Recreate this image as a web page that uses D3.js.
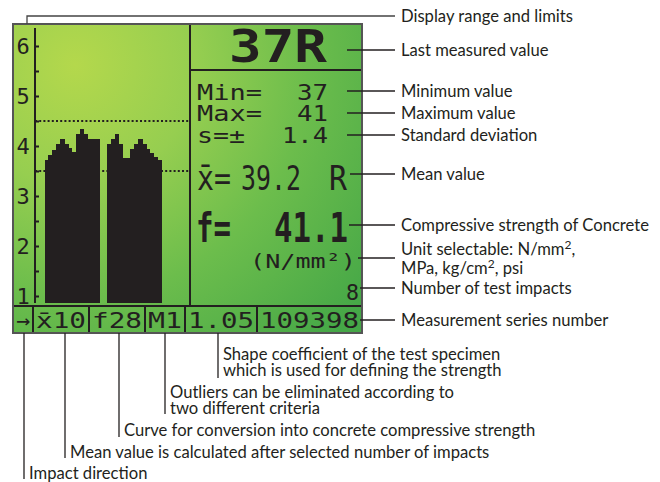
<!DOCTYPE html>
<html><head><meta charset="utf-8">
<script src="https://cdn.jsdelivr.net/npm/d3@7"></script>
<style>body{margin:0;background:#fff}</style>
</head><body><svg id="c" width="660" height="482"></svg>
<script>
// ---------- data ----------
const yTickValues = [1, 2, 3, 4, 5, 6];
const yMinorTickValues = [1.5, 2.5, 3.5, 4.5, 5.5];
const limitValues = [3.5, 4.5];
// histogram bins (display units), null = empty bin
const histBins = [3.72, 3.82, 3.92, 4.04, 4.14, 4.04, 3.96, 3.88, 4.24, 4.34, 4.24, 4.14, 4.14, 4.14,
                  null, null,
                  4.04, 4.14, 4.24, 4.04, 3.76, 3.76, 3.94, 4.04, 4.14, 4.04, 3.94, 3.86, 3.78, 3.72];
const lastValue = "37R";
const readoutLabels = ["Min=", "Max=", "s=\u00b1"];
const readoutValues = ["37", "41", "1.4"];
const meanLabel = "x\u0304=", meanValue = "39.2", meanUnit = "R";
const strengthLabel = "f=", strengthValue = "41.1", strengthUnit = "(N/mm\u00b2)";
const impactCount = "8";
const statusFields = ["\u2192", "x\u030410", "f28", "M1", "1.05", "109398"];
const rightNotes = ["Display range and limits", "Last measured value", "Minimum value", "Maximum value",
  "Standard deviation", "Mean value", "Compressive strength of Concrete",
  "Unit selectable: N/mm\u00b2,|MPa, kg/cm\u00b2, psi", "Number of test impacts", "Measurement series number"];
const bottomNotes = ["Impact direction", "Mean value is calculated after selected number of impacts",
  "Curve for conversion into concrete compressive strength",
  "Outliers can be eliminated according to|two different criteria",
  "Shape coefficient of the test specimen|which is used for defining the strength"];

// ---------- layout ----------
const svg = d3.select("#c");
const INK = "#231f20";
const LCD_FONT = "'DejaVu Sans Mono', monospace";
const NOTE_FONT = "Lato, 'DejaVu Sans', sans-serif";
const NOTE_SIZE = 16.6;
const scr = {x0: 13, x1: 362, y0: 24, y1: 333};
const divX = 190, headerY = 70, statusY = 306;
const statusDividers = [33, 89, 145, 185, 257];
const statusCellEdges = [scr.x0, 33, 89, 145, 185, 257, scr.x1];
const plotBottom = 303, axisX = 35;

const defs = svg.append("defs");
const grad = defs.append("radialGradient").attr("id", "lcd")
  .attr("gradientUnits", "userSpaceOnUse").attr("cx", 75).attr("cy", 65).attr("r", 375);
[[0, "#b4d84c"], [0.32, "#96ce50"], [0.62, "#6cbd4c"], [1, "#45a747"]].forEach(([o, c]) =>
  grad.append("stop").attr("offset", o).attr("stop-color", c));

// screen background
svg.append("rect").attr("x", scr.x0).attr("y", scr.y0)
  .attr("width", scr.x1 - scr.x0).attr("height", scr.y1 - scr.y0).attr("fill", "url(#lcd)");

const x = d3.scaleLinear().domain([0, histBins.length]).range([44.5, 161.5]);
const y = d3.scaleLinear().domain([1, 6]).range([296, 46]);

// dotted limit lines
svg.selectAll("line.limit").data(limitValues).join("line")
  .attr("x1", axisX).attr("x2", divX).attr("y1", d => y(d)).attr("y2", d => y(d))
  .attr("stroke", INK).attr("stroke-width", 2).attr("stroke-dasharray", "2,2.2");

// histogram
const bins = histBins.map((v, i) => ({i, v})).filter(d => d.v !== null);
svg.selectAll("rect.bin").data(bins).join("rect")
  .attr("x", d => x(d.i)).attr("width", d => x(d.i + 1) - x(d.i) + 0.6)
  .attr("y", d => y(d.v)).attr("height", d => plotBottom - y(d.v))
  .attr("fill", INK).attr("shape-rendering", "crispEdges");

// axis
const axisG = svg.append("g").attr("transform", `translate(${axisX},0)`)
  .call(d3.axisRight(y).tickValues(yTickValues.concat(yMinorTickValues)).tickSize(4).tickFormat(""));
axisG.select(".domain").remove();
axisG.selectAll(".tick line").attr("stroke", INK).attr("stroke-width", 2);
svg.append("line").attr("x1", axisX).attr("x2", axisX).attr("y1", 28).attr("y2", plotBottom)
  .attr("stroke", INK).attr("stroke-width", 2);
svg.selectAll("text.ylab").data(yTickValues).join("text")
  .attr("x", 23).attr("y", d => y(d) + 8).attr("text-anchor", "middle")
  .attr("font-family", LCD_FONT).attr("font-size", 22).attr("fill", INK).text(d => d);

// lcd text helper
function lcd(str, x0, base, size, len, weight) {
  return svg.append("text").attr("x", x0).attr("y", base).attr("font-family", LCD_FONT)
    .attr("font-size", size).attr("font-weight", weight || "normal").attr("fill", INK)
    .attr("textLength", len).attr("lengthAdjust", "spacingAndGlyphs").text(str);
}
lcd(lastValue, 229, 62, 45, 98, "bold");
const rowBase = [100, 121, 143];
const labelLen = [65, 65, 48];
const valueStart = [297, 297, 282];
readoutLabels.forEach((t, i) => lcd(t, 197, rowBase[i], 22, labelLen[i]));
readoutValues.forEach((t, i) => lcd(t, valueStart[i], rowBase[i], 22, 328 - valueStart[i]));
lcd(meanLabel, 197, 190, 34, 34);
lcd(meanValue, 241, 190, 34, 60);
lcd(meanUnit, 329, 190, 34, 18);
lcd(strengthLabel, 196, 242, 41, 35, "bold");
lcd(strengthValue, 274, 242, 41, 74, "bold");
lcd(strengthUnit, 250, 268, 20, 106);
lcd(impactCount, 346, 300, 22, 13);
statusFields.forEach((t, i) => {
  const a = statusCellEdges[i], b = statusCellEdges[i + 1];
  lcd(t, a + 3, 328, 22, b - a - 6);
});

// panel lines
const lines = [
  [divX, scr.y0, divX, statusY], [divX, headerY, scr.x1, headerY],
  [scr.x0, statusY, scr.x1, statusY]
].concat(statusDividers.map(d => [d, statusY, d, scr.y1]));
svg.selectAll("line.panel").data(lines).join("line")
  .attr("x1", d => d[0]).attr("y1", d => d[1]).attr("x2", d => d[2]).attr("y2", d => d[3])
  .attr("stroke", INK).attr("stroke-width", 2);
svg.append("rect").attr("x", scr.x0).attr("y", scr.y0)
  .attr("width", scr.x1 - scr.x0).attr("height", scr.y1 - scr.y0)
  .attr("fill", "none").attr("stroke", "#555").attr("stroke-width", 2);

// note text with superscript 2 support
function noteText(g, str, x0, yb) {
  const tx = g.append("text").attr("x", x0).attr("y", yb)
    .attr("font-family", NOTE_FONT).attr("font-size", NOTE_SIZE).attr("fill", INK);
  const segs = str.split("\u00b2");
  segs.forEach((s, j) => {
    tx.append("tspan").attr("dy", j > 0 ? 6 : 0).text(s);
    if (j < segs.length - 1) tx.append("tspan").attr("dy", -6).attr("font-size", 12).text("2");
  });
  return tx;
}

// right annotations
const noteY = [16, 50, 91, 113, 135, 174, 225, 258, 288, 320];
const noteStartX = [27, 347, 347, 347, 347, 350, 349, 358, 360, 360];
const NOTE_X = 401, LINE_END = 395;
const noteG = svg.append("g");
rightNotes.forEach((t, i) => {
  if (i === 0) {
    noteG.append("path").attr("d", `M${noteStartX[0]},${scr.y0}V${noteY[0]}H${LINE_END}`)
      .attr("fill", "none").attr("stroke", "#444").attr("stroke-width", 1.3);
  } else {
    noteG.append("line").attr("x1", noteStartX[i]).attr("x2", LINE_END)
      .attr("y1", noteY[i]).attr("y2", noteY[i]).attr("stroke", INK).attr("stroke-width", 1.3);
  }
  const parts = t.split("|");
  const top = noteY[i] - (parts.length - 1) * 9.5;
  parts.forEach((p, k) => noteText(noteG, p, NOTE_X, top + k * 19 + 6));
});

// bottom annotations
const bnX = [24, 65, 119, 165, 218];
const bnEnd = [479, 458, 437, 414, 378];
const bnTextY = [473, 452, 430, 392, 354];
bottomNotes.forEach((t, i) => {
  noteG.append("line").attr("x1", bnX[i]).attr("x2", bnX[i]).attr("y1", scr.y1).attr("y2", bnEnd[i])
    .attr("stroke", INK).attr("stroke-width", 1.3);
  t.split("|").forEach((p, k) => noteText(noteG, p, bnX[i] + 5, bnTextY[i] + k * 16 + 5.5));
});
</script></body></html>
